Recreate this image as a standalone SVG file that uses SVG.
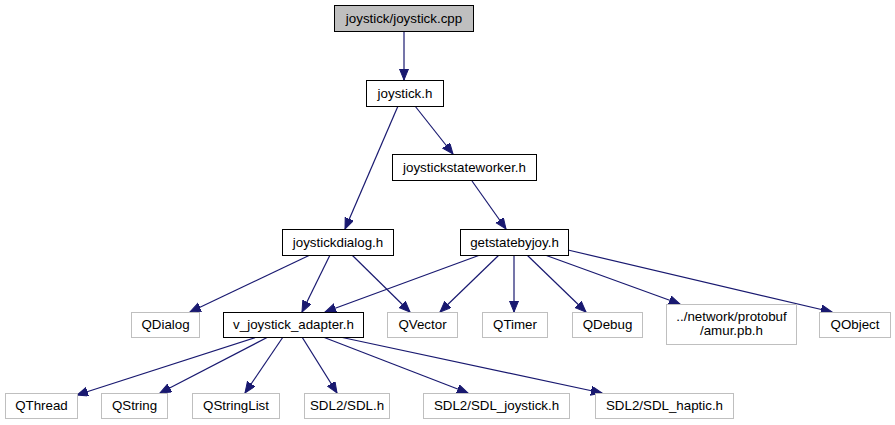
<svg xmlns="http://www.w3.org/2000/svg" width="895" height="425" viewBox="0 0 895 425">
<style>
.n rect{fill:#fff;stroke:#000;stroke-width:1}
.x rect{fill:#fff;stroke:#bfbfbf;stroke-width:1}
text{font-family:"Liberation Sans",Arial,sans-serif;font-size:13.33px;text-anchor:middle;fill:#000}
.e path{fill:none;stroke:#191970;stroke-width:1.2;marker-end:url(#a)}
</style>
<defs>
<marker id="a" markerUnits="userSpaceOnUse" markerWidth="13" markerHeight="11" refX="11" refY="4.5" orient="auto">
<path d="M0,0 L11,4.5 L0,9 z" fill="#191970" stroke="#191970" stroke-width="1"/>
</marker>
</defs>
<rect width="895" height="425" fill="#fff"/>
<g class="e" id="edges">
<path d="M404,32 L404,80"/>
<path d="M398,106 L345,229"/>
<path d="M415,106 L453,154"/>
<path d="M472,181 L506,229"/>
<path d="M310,255 L190,312"/>
<path d="M330,255 L302,312"/>
<path d="M352,255 L410,312"/>
<path d="M480,255 L325,312"/>
<path d="M499,255 L440,312"/>
<path d="M514,255 L514,312"/>
<path d="M527,255 L586,312"/>
<path d="M545,255 L680,304"/>
<path d="M568,250 L832,312"/>
<path d="M257,337 L77,395"/>
<path d="M268,337 L160,393"/>
<path d="M283,337 L245,393"/>
<path d="M302,337 L337,393"/>
<path d="M323,337 L468,393"/>
<path d="M340,337 L602,393"/>
</g>
<g id="cpp" class="n"><rect x="334.5" y="5.5" width="139" height="26" style="fill:#bfbfbf"/><text x="404" y="23">joystick/joystick.cpp</text></g>
<g id="joystick_h" class="n"><rect x="366.5" y="80.5" width="77" height="26"/><text x="405" y="98">joystick.h</text></g>
<g id="stateworker" class="n"><rect x="392.5" y="154.5" width="144" height="26"/><text x="464.5" y="172">joystickstateworker.h</text></g>
<g id="dialog" class="n"><rect x="282.5" y="229.5" width="111" height="26"/><text x="338" y="247">joystickdialog.h</text></g>
<g id="getstate" class="n"><rect x="460.5" y="229.5" width="108" height="26"/><text x="514.5" y="247">getstatebyjoy.h</text></g>
<g id="qdialog" class="x"><rect x="131.5" y="312.5" width="68" height="25"/><text x="165.5" y="329">QDialog</text></g>
<g id="vjoy" class="n"><rect x="223.5" y="312.5" width="140" height="25"/><text x="293.5" y="329">v_joystick_adapter.h</text></g>
<g id="qvector" class="x"><rect x="387.5" y="312.5" width="70" height="25"/><text x="422.5" y="329">QVector</text></g>
<g id="qtimer" class="x"><rect x="482.5" y="312.5" width="65" height="25"/><text x="515" y="329">QTimer</text></g>
<g id="qdebug" class="x"><rect x="572.5" y="312.5" width="70" height="25"/><text x="607.5" y="329">QDebug</text></g>
<g id="amur" class="x"><rect x="666.5" y="304.5" width="130" height="40"/><text x="731.5" y="321">../network/protobuf</text><text x="731.5" y="335">/amur.pb.h</text></g>
<g id="qobject" class="x"><rect x="819.5" y="312.5" width="71" height="25"/><text x="855" y="329">QObject</text></g>
<g id="qthread" class="x"><rect x="5.5" y="393.5" width="72" height="25"/><text x="41.5" y="410">QThread</text></g>
<g id="qstring" class="x"><rect x="101.5" y="393.5" width="66" height="25"/><text x="134.5" y="410">QString</text></g>
<g id="qstringlist" class="x"><rect x="192.5" y="393.5" width="87" height="25"/><text x="236" y="410">QStringList</text></g>
<g id="sdl" class="x"><rect x="304.5" y="393.5" width="85" height="25"/><text x="347" y="410">SDL2/SDL.h</text></g>
<g id="sdljoy" class="x"><rect x="423.5" y="393.5" width="146" height="25"/><text x="496.5" y="410">SDL2/SDL_joystick.h</text></g>
<g id="sdlhaptic" class="x"><rect x="595.5" y="393.5" width="138" height="25"/><text x="664.5" y="410">SDL2/SDL_haptic.h</text></g>
</svg>
